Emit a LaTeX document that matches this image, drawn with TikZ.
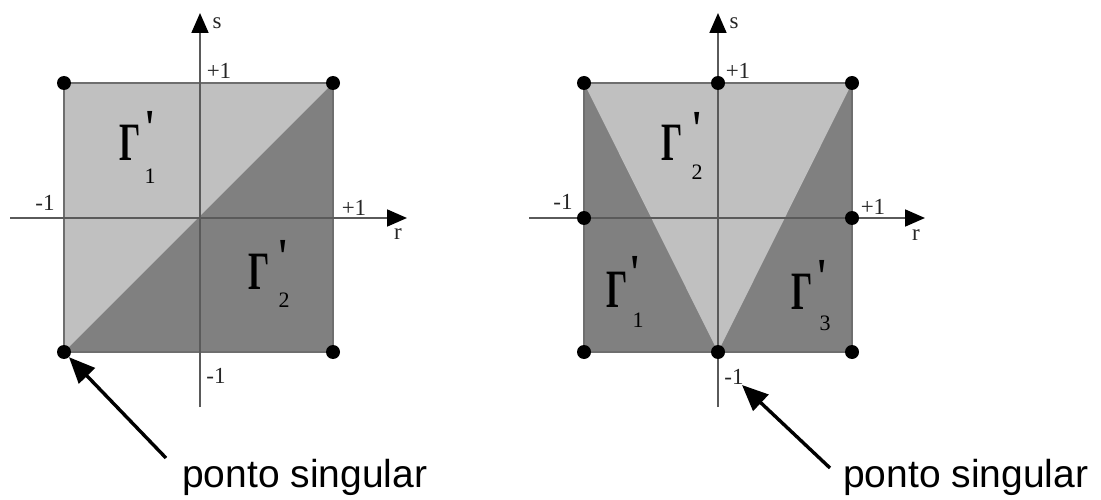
\documentclass[tikz,border=0pt]{standalone}
\usepackage{fontspec}
\setmainfont{Liberation Serif}
\newfontfamily\arialf{Liberation Sans}
\usepackage{graphicx}
\usetikzlibrary{arrows.meta}
\definecolor{lightg}{HTML}{C0C0C0}
\definecolor{darkg}{HTML}{808080}
\definecolor{borderg}{HTML}{6E6E6E}
\definecolor{axisg}{HTML}{5A5A5A}
\newcommand{\Gam}{\scalebox{0.62}[1]{\bfseries Γ}}
\begin{document}
\begin{tikzpicture}[x=1pt,y=-1pt,
  dot/.style={circle,fill=black,inner sep=0pt,minimum size=14pt},
  axisline/.style={draw=axisg,line width=1.8pt,-{Triangle[length=20pt,width=17pt,color=black]}},
  sqborder/.style={draw=borderg,line width=1.5pt},
  lbl/.style={font=\fontsize{23}{23}\selectfont,text=black!85,inner sep=0pt},
  gam/.style={font=\fontsize{54}{54}\selectfont,inner sep=0pt},
  prm/.style={font=\fontsize{52}{52}\selectfont,inner sep=0pt},
  sub/.style={font=\fontsize{22}{22}\selectfont,inner sep=0pt},
  sing/.style={draw=black,line width=3.4pt,-{Triangle[length=26pt,width=22pt]}},
  singtext/.style={font=\arialf\fontsize{39}{39}\selectfont,inner sep=0pt,anchor=base west}
]
\useasboundingbox (0,0) rectangle (1101,500);

% ---------- left figure ----------
\fill[lightg] (64,83) -- (333,83) -- (64,352) -- cycle;
\fill[darkg] (333,83) -- (333,352) -- (64,352) -- cycle;
\draw[sqborder] (64,83) rectangle (333,352);
\draw[axisline] (10,218) -- (407,218);
\draw[axisline] (200,407) -- (200,13);
\node[dot] (lA) at (64,352) {};
\node[dot] (lB) at (333,352) {};
\node[dot] (lC) at (333,83) {};
\node[dot] (lD) at (64,83) {};
\node[lbl] (ls) at (217,23) {s};
\node[lbl] (lt) at (219,71) {+1};
\node[lbl] (ll) at (45,203) {-1};
\node[lbl] (lr1) at (354,208) {+1};
\node[lbl] (lr) at (398,234) {r};
\node[lbl] (lb) at (216,376) {-1};
\node[gam] (lg1) at (130,143) {\Gam};
\node[prm] (lg1p) at (150,128) {\textquotesingle};
\node[sub] (lg1s) at (150,176) {1};
\node[gam] (lg2) at (259,272) {\Gam};
\node[prm] (lg2p) at (283,257) {\textquotesingle};
\node[sub] (lg2s) at (284,300) {2};

% ---------- right figure ----------
\fill[darkg] (584,83) rectangle (852,352);
\fill[lightg] (584,83) -- (852,83) -- (718,352) -- cycle;
\draw[sqborder] (584,83) rectangle (852,352);
\draw[axisline] (529,218) -- (925,218);
\draw[axisline] (718,407) -- (718,13);
\node[dot] (rA) at (584,352) {};
\node[dot] (rB) at (718,352) {};
\node[dot] (rC) at (852,352) {};
\node[dot] (rD) at (584,218) {};
\node[dot] (rE) at (852,218) {};
\node[dot] (rF) at (584,83) {};
\node[dot] (rG) at (718,83) {};
\node[dot] (rH) at (852,83) {};
\node[lbl] (rs) at (734,23) {s};
\node[lbl] (rt) at (738,71) {+1};
\node[lbl] (rl) at (563,202) {-1};
\node[lbl] (rr1) at (873,207) {+1};
\node[lbl] (rr) at (916,235) {r};
\node[lbl] (rb) at (734,377) {-1};
\node[gam] (rg2) at (672,143) {\Gam};
\node[prm] (rg2p) at (697,129) {\textquotesingle};
\node[sub] (rg2s) at (697,172) {2};
\node[gam] (rg1) at (617,290) {\Gam};
\node[prm] (rg1p) at (635,273) {\textquotesingle};
\node[sub] (rg1s) at (638,320) {1};
\node[gam] (rg3) at (802,292) {\Gam};
\node[prm] (rg3p) at (822,277) {\textquotesingle};
\node[sub] (rg3s) at (825,323) {3};

% ---------- singular point annotations ----------
\node[singtext] (lst) at (182,487) {ponto singular};
\node[singtext] (rst) at (843,487) {ponto singular};
\coordinate (ls0) at (166,458);
\coordinate (rs0) at (830,468);
\coordinate (rs1) at (742,385);
\draw[sing] (ls0) -- (lA);
\draw[sing] (rs0) -- (rs1);
\end{tikzpicture}
\end{document}
